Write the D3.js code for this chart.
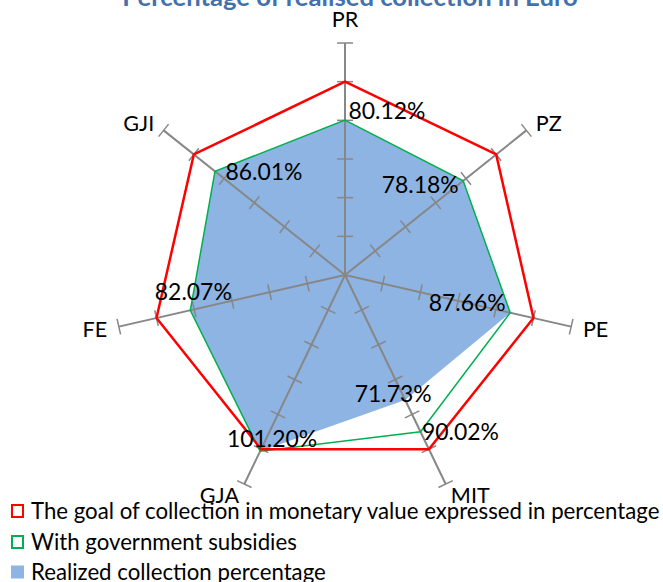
<!DOCTYPE html>
<html>
<head>
<meta charset="utf-8">
<script src="https://cdn.jsdelivr.net/npm/d3@7/dist/d3.min.js"></script>
<style>
  html, body { margin: 0; padding: 0; background: #fff; }
  svg { display: block; }
</style>
</head>
<body>
<svg id="chart" width="663" height="582"></svg>
<script>
// ---- data ----
const title = "Percentage of realised collection in Euro";
const categories = ["PR", "PZ", "PE", "MIT", "GJA", "FE", "GJI"];
const goalValues = [100, 100, 100, 100, 100, 100, 100];
const subsidyValues = [80.12, 78.18, 87.66, 90.02, 101.20, 82.07, 86.01];
const realizedValues = [80.12, 78.18, 87.66, 71.73, 101.20, 82.07, 86.01];
const seriesNames = [
  "The goal of collection in monetary value expressed in percentage",
  "With government subsidies",
  "Realized collection percentage"
];
const axisMax = 120;
const tickStep = 20;
// data labels: [series, category index, text]
const dataLabels = [
  ["realized", 0, "80.12%"],
  ["realized", 1, "78.18%"],
  ["realized", 2, "87.66%"],
  ["realized", 3, "71.73%"],
  ["subsidy", 3, "90.02%"],
  ["realized", 4, "101.20%"],
  ["realized", 5, "82.07%"],
  ["realized", 6, "86.01%"]
];
// layout: label centre offsets from their point (px)
const labelOffsets = [[42, -9], [-43, 4], [-43, -10], [-12, -6], [40, 0], [12, -13], [3, -19], [49, 0]];

// ---- layout ----
const svg = d3.select("#chart");
const cx = 345, cy = 275, R = 232;
const FONT = "Lato, 'Open Sans', sans-serif";

const r = d3.scaleLinear().domain([0, axisMax]).range([0, R]);
const angle = d3.scaleLinear().domain([0, categories.length]).range([0, 2 * Math.PI]);

const colors = { goal: "#ff0000", subsidy: "#00b050", realized: "#8eb4e3", axis: "#878787" };

function fitSize(text, weight, target) {
  const t = svg.append("text").attr("font-family", FONT).attr("font-weight", weight)
    .attr("font-size", 100).text(text);
  const w = t.node().getComputedTextLength();
  t.remove();
  return 100 * target / w;
}

const g = svg.append("g").attr("transform", `translate(${cx},${cy})`);
const pt = (i, v) => [Math.sin(angle(i)) * r(v), -Math.cos(angle(i)) * r(v)];

const radial = d3.lineRadial()
  .angle((d, i) => angle(i))
  .radius(d => r(d))
  .curve(d3.curveLinearClosed);

// realized area
g.append("path").attr("d", radial(realizedValues))
  .attr("fill", colors.realized).attr("stroke", "none");

// axes
const ticks = d3.range(tickStep, axisMax + 0.001, tickStep);
categories.forEach((c, i) => {
  const a = angle(i);
  const [x2, y2] = pt(i, axisMax);
  g.append("line").attr("x1", 0).attr("y1", 0).attr("x2", x2).attr("y2", y2)
    .attr("stroke", colors.axis).attr("stroke-width", 2);
  const px = Math.cos(a), py = Math.sin(a);
  ticks.forEach(t => {
    const [tx, ty] = pt(i, t);
    g.append("line")
      .attr("x1", tx - px * 8).attr("y1", ty - py * 8)
      .attr("x2", tx + px * 8).attr("y2", ty + py * 8)
      .attr("stroke", colors.axis).attr("stroke-width", 1.5);
  });
});

// subsidy line
g.append("path").attr("d", radial(subsidyValues))
  .attr("fill", "none").attr("stroke", colors.subsidy).attr("stroke-width", 1.5)
  .attr("stroke-linejoin", "miter");

// goal line
g.append("path").attr("d", radial(goalValues))
  .attr("fill", "none").attr("stroke", colors.goal).attr("stroke-width", 2.5)
  .attr("stroke-linejoin", "miter");

// axis labels
const axisFs = fitSize("PR", 400, 26.5);
categories.forEach((c, i) => {
  const s = Math.sin(angle(i));
  const vertical = Math.abs(s) < 0.01;
  const [lx, ly] = pt(i, r.invert(vertical ? 256 : 244));
  g.append("text")
    .attr("x", lx).attr("y", ly + axisFs * 0.36)
    .attr("text-anchor", vertical ? "middle" : (s > 0 ? "start" : "end"))
    .attr("font-family", FONT).attr("font-size", axisFs).attr("fill", "#000")
    .text(c);
});

// data labels
const labelFs = fitSize("80.12%", 400, 77);
dataLabels.forEach((d, k) => {
  const vals = d[0] === "subsidy" ? subsidyValues : realizedValues;
  const [x, y] = pt(d[1], vals[d[1]]);
  const [dx, dy] = labelOffsets[k];
  g.append("text")
    .attr("x", x + dx).attr("y", y + dy + labelFs * 0.36)
    .attr("text-anchor", "middle")
    .attr("font-family", FONT).attr("font-size", labelFs).attr("fill", "#000")
    .text(d[2]);
});

// title (cut off at top)
const titleFs = fitSize(title, 700, 456);
svg.append("text").attr("x", 350).attr("y", 6)
  .attr("text-anchor", "middle")
  .attr("font-family", FONT).attr("font-weight", 700).attr("font-size", titleFs)
  .attr("fill", "#4471ad").text(title);

// legend
const legFs = fitSize(seriesNames[0], 400, 629);
const legY = [511, 542, 572];
const legKeys = ["goal", "subsidy", "realized"];
legKeys.forEach((k, i) => {
  const y = legY[i];
  if (k === "realized") {
    svg.append("rect").attr("x", 11).attr("y", y - 6.5).attr("width", 13).attr("height", 13)
      .attr("fill", colors.realized);
  } else {
    svg.append("rect").attr("x", 12).attr("y", y - 6).attr("width", 11).attr("height", 12)
      .attr("fill", "#fff").attr("stroke", colors[k]).attr("stroke-width", 2);
  }
  svg.append("text").attr("x", 31).attr("y", y + legFs * 0.36)
    .attr("font-family", FONT).attr("font-size", legFs).attr("fill", "#000")
    .text(seriesNames[i]);
});
</script>
</body>
</html>
